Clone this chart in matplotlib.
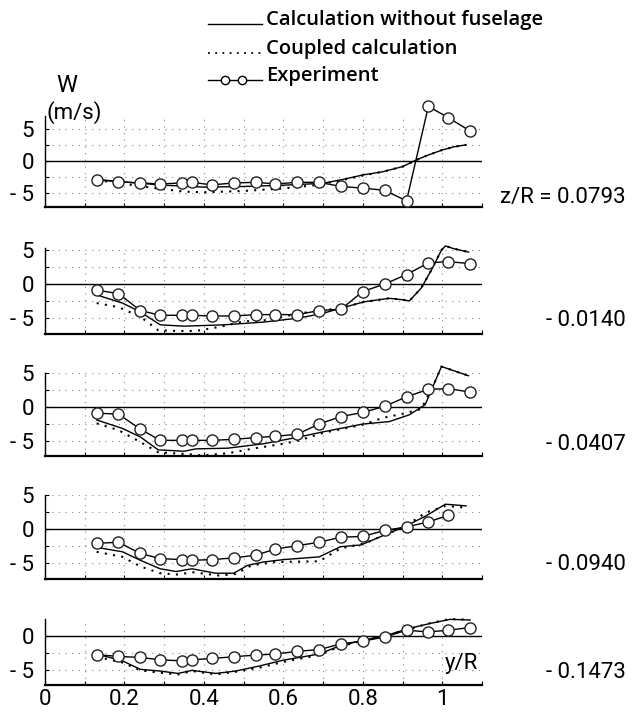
import matplotlib
matplotlib.use('Agg')
import matplotlib.pyplot as plt
from matplotlib.lines import Line2D

# spanwise stations of the experiment
y_exp = [0.13, 0.185, 0.24, 0.29, 0.345, 0.37, 0.42, 0.475, 0.53, 0.58,
         0.635, 0.69, 0.745, 0.80, 0.855, 0.91, 0.965, 1.015, 1.07]

z_labels = ['z/R = 0.0793', '- 0.0140', '- 0.0407', '- 0.0940', '- 0.1473']

# z/R = 0.0793
exp1 = [-2.95, -3.25, -3.45, -3.6, -3.45, -3.35, -3.75, -3.45, -3.35, -3.6,
        -3.35, -3.35, -4.0, -4.25, -4.6, -6.25, 8.5, 6.75, 4.65]
calc1_x = [0.13, 0.2, 0.3, 0.4, 0.5, 0.6, 0.7, 0.75, 0.8, 0.85, 0.9, 0.93, 0.96, 1.0, 1.03, 1.06]
calc1_y = [-2.9, -3.3, -3.8, -4.1, -4.0, -3.8, -3.5, -2.9, -2.2, -1.7, -0.9, 0.0, 0.8, 1.7, 2.2, 2.5]
coup1_x = [0.13, 0.2, 0.27, 0.35, 0.4, 0.5, 0.6, 0.68, 0.75, 0.8, 0.85, 0.9, 0.93, 0.96, 1.0, 1.03, 1.06]
coup1_y = [-3.0, -3.6, -4.2, -4.8, -4.9, -4.7, -4.3, -3.8, -3.0, -2.3, -1.7, -0.9, 0.0, 0.8, 1.7, 2.2, 2.5]

# z/R = -0.0140
exp2 = [-0.9, -1.4, -3.9, -4.6, -4.6, -4.6, -4.7, -4.7, -4.5, -4.5,
        -4.5, -3.9, -3.7, -1.1, 0.0, 1.4, 3.1, 3.3, 3.0]
calc2_x = [0.13, 0.195, 0.24, 0.29, 0.35, 0.45, 0.55, 0.64, 0.7, 0.754, 0.805, 0.866,
           0.906, 0.917, 0.947, 0.973, 0.998, 1.008, 1.029, 1.066]
calc2_y = [-1.6, -2.8, -4.1, -6.0, -6.2, -6.0, -5.6, -5.0, -4.3, -3.4, -2.6, -2.1,
           -2.35, -2.5, -0.6, 2.1, 5.0, 5.6, 5.2, 4.7]
coup2_x = [0.13, 0.185, 0.24, 0.285, 0.33, 0.38, 0.44, 0.5, 0.56, 0.6, 0.64, 0.7, 0.754,
           0.805, 0.866, 0.906, 0.917, 0.947, 0.973, 0.998, 1.008, 1.029, 1.066]
coup2_y = [-2.8, -3.4, -4.8, -6.8, -6.9, -6.9, -6.3, -5.5, -5.3, -4.8, -4.3, -3.9, -3.4,
           -2.6, -2.1, -2.35, -2.5, -0.6, 2.1, 5.0, 5.6, 5.2, 4.7]

# z/R = -0.0407
exp3 = [-0.9, -1.05, -3.25, -4.9, -4.9, -4.9, -4.9, -4.75, -4.5, -4.3,
        -4.0, -2.5, -1.4, -0.8, 0.1, 1.5, 2.6, 2.7, 2.2]
calc3_x = [0.13, 0.195, 0.24, 0.285, 0.35, 0.38, 0.46, 0.55, 0.64, 0.70, 0.80, 0.866,
           0.917, 0.957, 0.977, 0.998, 1.066]
calc3_y = [-1.9, -3.15, -4.4, -6.3, -6.5, -6.15, -6.05, -5.4, -4.4, -3.65, -2.5, -2.15,
           -1.15, 0.35, 3.1, 5.95, 4.6]
coup3_x = [0.13, 0.185, 0.24, 0.285, 0.35, 0.40, 0.46, 0.52, 0.60, 0.64, 0.70, 0.80,
           0.85, 0.90, 0.947, 0.977, 0.998, 1.066]
coup3_y = [-2.4, -3.4, -5.15, -6.65, -6.9, -7.1, -6.8, -6.15, -5.4, -4.9, -3.8, -2.6,
           -1.6, -1.0, -0.3, 3.1, 5.95, 4.6]

# z/R = -0.0940
exp4 = [-2.1, -1.95, -3.6, -4.35, -4.5, -4.6, -4.5, -4.25, -3.85, -2.95,
        -2.45, -1.95, -1.2, -1.1, -0.2, 0.3, 1.05, 2.0]
calc4_x = [0.13, 0.195, 0.24, 0.29, 0.33, 0.37, 0.43, 0.475, 0.51, 0.55, 0.60, 0.69,
           0.744, 0.795, 0.856, 0.907, 0.958, 1.008, 1.06]
calc4_y = [-2.7, -3.35, -4.6, -5.85, -6.25, -5.85, -6.5, -6.5, -5.35, -4.85, -4.5, -4.1,
           -2.6, -2.35, -0.85, 0.4, 1.9, 3.65, 3.4]
coup4_x = [0.13, 0.195, 0.24, 0.29, 0.335, 0.37, 0.44, 0.48, 0.52, 0.58, 0.69, 0.744,
           0.805, 0.856, 0.907, 0.958, 1.008, 1.06]
coup4_y = [-3.35, -4.1, -5.5, -6.5, -6.7, -6.35, -6.85, -6.6, -5.35, -4.85, -4.75, -2.85,
           -2.1, -0.85, 0.4, 2.4, 3.4, 3.15]

# z/R = -0.1473
exp5 = [-2.75, -3.0, -3.15, -3.5, -3.65, -3.5, -3.3, -3.05, -2.8, -2.65,
        -2.25, -2.0, -1.15, -0.75, -0.15, 0.85, 0.6, 0.85, 1.25]
calc5_x = [0.13, 0.195, 0.24, 0.29, 0.335, 0.37, 0.43, 0.48, 0.54, 0.60, 0.69, 0.744,
           0.80, 0.86, 0.915, 0.97, 1.02, 1.07]
calc5_y = [-2.65, -3.65, -4.9, -5.15, -5.5, -5.05, -5.5, -5.15, -4.4, -3.55, -2.65, -1.4,
           -0.65, 0.1, 1.1, 1.85, 2.45, 2.35]
coup5_x = [0.13, 0.195, 0.24, 0.29, 0.335, 0.37, 0.43, 0.48, 0.54, 0.60, 0.69, 0.744,
           0.80, 0.86, 0.915, 0.97, 1.02, 1.07]
coup5_y = [-3.05, -3.9, -5.05, -5.4, -5.65, -5.15, -5.65, -5.25, -4.65, -3.8, -2.8, -1.5,
           -0.7, 0.1, 1.0, 1.9, 2.5, 2.4]

panels = [
    (exp1, calc1_x, calc1_y, coup1_x, coup1_y),
    (exp2, calc2_x, calc2_y, coup2_x, coup2_y),
    (exp3, calc3_x, calc3_y, coup3_x, coup3_y),
    (exp4, calc4_x, calc4_y, coup4_x, coup4_y),
    (exp5, calc5_x, calc5_y, coup5_x, coup5_y),
]

# layout in pixels: top, bottom, ylim, label y
W_PX, H_PX = 633, 714
boxes = [(116, 207, (-7.2, 7.0), 198),
         (248, 334, (-7.35, 5.3), 321),
         (373, 456, (-7.2, 5.0), 444),
         (495, 579, (-7.35, 5.0), 565),
         (619, 685, (-7.2, 2.5), 672)]
LEFT, RIGHT = 45, 482

NUM = ['Roboto', 'DejaVu Sans']
LEG = ['Open Sans', 'DejaVu Sans']
FS = 16


def fx(x):
    return x / W_PX


def fy(y):
    return 1 - y / H_PX


fig = plt.figure(figsize=(6.33, 7.14), dpi=100)

for i, (exp, cx, cy, dx, dy) in enumerate(panels):
    top, bot, ylim, lab_y = boxes[i]
    ax = fig.add_axes([fx(LEFT), fy(bot), fx(RIGHT - LEFT), (bot - top) / H_PX])
    ax.set_xlim(0, 1.1)
    ax.set_ylim(*ylim)

    ax.plot(cx, cy, color='black', lw=1.0, clip_on=False, zorder=3)
    ax.plot(dx, dy, color='black', lw=1.5, linestyle=(0, (1, 3)), clip_on=False, zorder=3)
    ax.plot(y_exp[:len(exp)], exp, color='black', lw=1.0, marker='o', ms=8,
            mfc='white', mec='#222222', mew=1.0, clip_on=False, zorder=4)

    ax.axhline(0, color='black', lw=1.0, zorder=2)

    for s in ['top', 'right']:
        ax.spines[s].set_visible(False)
    ax.spines['left'].set_linewidth(1.0)
    ax.spines['bottom'].set_linewidth(1.6)

    yt = [5, 0, -5] if ylim[1] > 4 else [0, -5]
    ax.set_yticks(yt)
    ax.set_yticklabels(['- 5' if v < 0 else str(v) for v in yt], family=NUM, fontsize=FS)
    ax.set_yticks([v for v in [5, 2.5, -2.5, -5] if v < ylim[1]], minor=True)
    ax.set_xticks([0.1 * k for k in range(1, 12)], minor=True)
    ax.set_xticks([0, 0.2, 0.4, 0.6, 0.8, 1.0])
    if i == 4:
        ax.set_xticklabels(['0', '0.2', '0.4', '0.6', '0.8', '1'], family=NUM, fontsize=FS)
    else:
        ax.set_xticklabels([])
    ax.tick_params(which='both', direction='in', length=3, width=0.8, color='black')
    ax.tick_params(axis='y', pad=8)
    ax.tick_params(axis='x', pad=3)
    ax.grid(True, which='both', color='#888888', lw=0.8, linestyle=(0, (1, 5)))
    ax.set_axisbelow(True)

    fig.text(fx(626), fy(lab_y), z_labels[i], ha='right', va='center',
             family=NUM, fontsize=FS)

    if i == 4:
        ax.text(1.09, -4.0, 'y/R', ha='right', va='center', family=NUM, fontsize=FS)

# axis title
fig.text(fx(67), fy(86), 'W', ha='center', va='center', family=NUM, fontsize=17)
fig.text(fx(74), fy(113), '(m/s)', ha='center', va='center', family=NUM, fontsize=FS)

# legend drawn by hand at the top
leg_items = [('Calculation without fuselage', 24, '-', None),
             ('Coupled calculation', 53, (0, (1, 3)), None),
             ('Experiment', 80, '-', 'o')]
for text, ly, ls, mk in leg_items:
    fig.add_artist(Line2D([fx(208), fx(262)], [fy(ly), fy(ly)], transform=fig.transFigure,
                          color='black', lw=1.3 if ls != '-' else 1.0, linestyle=ls))
    if mk:
        fig.add_artist(Line2D([fx(225), fx(242)], [fy(ly), fy(ly)], transform=fig.transFigure,
                              linestyle='none', marker='o', ms=6, mfc='white', mec='black', mew=1.0))
    fig.text(fx(266), fy(ly - 4), text, ha='left', va='center', family=LEG,
             fontsize=14.5, fontweight='semibold')

fig.savefig('out.png', dpi=100)
